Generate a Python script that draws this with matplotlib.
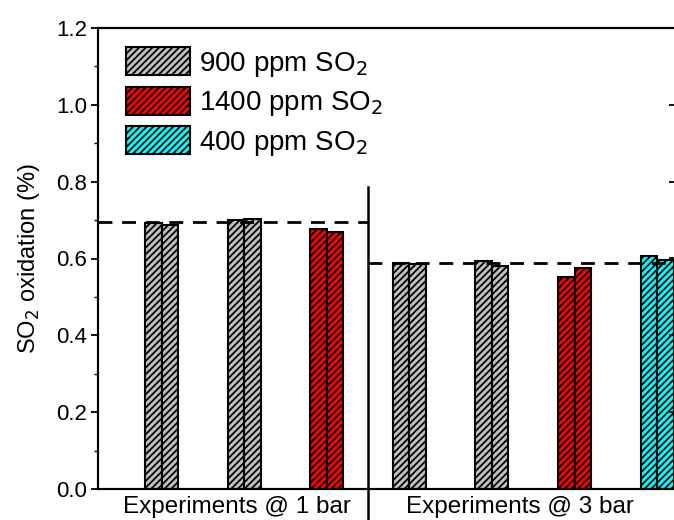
import matplotlib
matplotlib.use("Agg")
import matplotlib.pyplot as plt
from matplotlib.patches import Patch
from matplotlib.ticker import MultipleLocator

plt.rcParams['font.family'] = ['Liberation Sans', 'DejaVu Sans']
plt.rcParams['hatch.linewidth'] = 1.3
plt.rcParams['hatch.color'] = 'black'

# data
group_labels = ["Experiments @ 1 bar", "Experiments @ 3 bar"]
run_a = [0.693, 0.701, 0.677, 0.589, 0.593, 0.552, 0.607]
run_b = [0.686, 0.703, 0.669, 0.585, 0.581, 0.575, 0.595]
bar_series = ["900", "900", "1400", "900", "900", "1400", "400"]
series_names = ["900 ppm SO$_2$", "1400 ppm SO$_2$", "400 ppm SO$_2$"]
series_keys = ["900", "1400", "400"]
series_colors = {"900": "#c0c0c0", "1400": "#ff0000", "400": "#00ffff"}
yticks = [0.0, 0.2, 0.4, 0.6, 0.8, 1.0, 1.2]
mean_1bar = 0.695
mean_3bar = 0.587

W, H = 674, 520
fig = plt.figure(figsize=(W / 100, H / 100), dpi=100)
ax = fig.add_axes([98 / W, (520 - 489) / H, (676 - 98) / W, (489 - 28) / H])

width = 0.2
HATCH = '/////'
for i, (a, b, s) in enumerate(zip(run_a, run_b, bar_series)):
    c = series_colors[s]
    ax.bar(i - width / 2, a, width, color=c, edgecolor='black', linewidth=1.5, hatch=HATCH)
    ax.bar(i + width / 2, b, width, color=c, edgecolor='black', linewidth=1.5, hatch=HATCH)

XL = (-0.769, 6.228)
ax.set_xlim(*XL)
ax.set_ylim(0, 1.2)

# dashed mean lines
ax.plot([XL[0], 2.5], [mean_1bar, mean_1bar], color='black', ls=(0, (5, 3.5)), lw=2)
ax.plot([2.5, XL[1]], [mean_3bar, mean_3bar], color='black', ls=(0, (5, 3.5)), lw=2)

# divider
ax.plot([2.5, 2.5], [0.786, -0.08], color='black', lw=1.8, clip_on=False)

ax.set_yticks(yticks)
ax.set_yticklabels([f"{v:.1f}" for v in yticks])
ax.yaxis.set_minor_locator(MultipleLocator(0.1))
ax.tick_params(axis='y', which='major', direction='out', length=5, width=1.3,
               labelsize=16, pad=3)
ax.tick_params(axis='y', which='minor', direction='out', length=3, width=1.0)

ax.set_xticks([0.914, 4.34])
ax.set_xticklabels(group_labels, fontsize=17.5)
ax.tick_params(axis='x', length=0, pad=5)

for sp in ax.spines.values():
    sp.set_linewidth(1.5)

# right axis with inward major ticks
ax2 = ax.twinx()
ax2.set_ylim(0, 1.2)
ax2.set_yticks(yticks)
ax2.tick_params(axis='y', direction='in', length=5, width=1.3, labelright=False)
for sp in ax2.spines.values():
    sp.set_linewidth(1.5)

ax.set_ylabel("SO$_2$ oxidation (%)", fontsize=17, labelpad=10)

handles = [Patch(facecolor=series_colors[k], edgecolor='black', hatch=HATCH, linewidth=1.5)
           for k in series_keys]
ax.legend(handles, series_names, loc='upper left', bbox_to_anchor=(0.03, 0.982),
          frameon=False, fontsize=20, handlelength=2.3, handleheight=1.15,
          handletextpad=0.3, labelspacing=0.3, borderaxespad=0)

fig.savefig("out.png", dpi=100)
